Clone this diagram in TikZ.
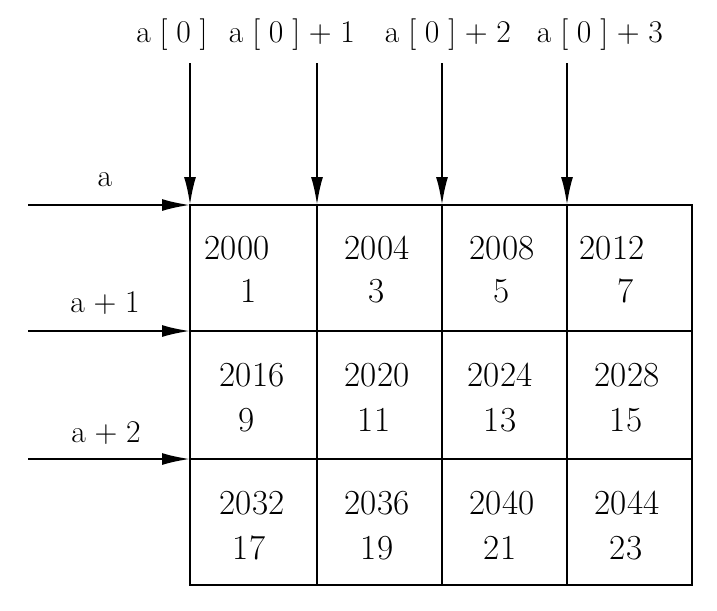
\documentclass[tikz,border=0pt]{standalone}
\usetikzlibrary{arrows.meta}
\tikzstyle{cell} = [inner sep=0pt, font=\fontsize{20}{24}\selectfont]
\tikzstyle{lbl} = [inner sep=0pt, font=\fontsize{18}{22}\selectfont]
\tikzstyle{grid} = [line width=1.2pt]

\begin{document}
\begin{tikzpicture}[x=0.02cm, y=-0.02cm]
    \tikzset{ptr/.style={-{Latex[length=5.6mm,width=2.4mm]}, line width=1.2pt}}
\useasboundingbox (0,0) rectangle (717,610);

% grid corners
\foreach \i/\x in {0/190,1/317,2/442,3/567,4/692}
  \foreach \j/\y in {0/205,1/331,2/459,3/585}
    \coordinate (g\i\j) at (\x,\y);

\draw [grid] (g00) rectangle (g43);
\draw [grid] (g10) -- (g13);
\draw [grid] (g20) -- (g23);
\draw [grid] (g30) -- (g33);
\draw [grid] (g01) -- (g41);
\draw [grid] (g02) -- (g42);

% column pointers
\node (p0) [lbl] at (172,35) {a\;[\;0\;]};
\node (p1) [lbl] at (292,35) {a\;[\;0\;]\;+\;1};
\node (p2) [lbl] at (448,35) {a\;[\;0\;]\;+\;2};
\node (p3) [lbl] at (600,35) {a\;[\;0\;]\;+\;3};
\foreach \i/\x in {0/190,1/317,2/442,3/567}
  \coordinate (t\i) at (\x,63);
\draw [ptr] (t0) -- (g00);
\draw [ptr] (t1) -- (g10);
\draw [ptr] (t2) -- (g20);
\draw [ptr] (t3) -- (g30);

% row pointers
\node (r0) [lbl] at (105,180) {a};
\node (r1) [lbl] at (105,303) {a\;+\;1};
\node (r2) [lbl] at (106,433) {a\;+\;2};
\foreach \j/\y in {0/205,1/331,2/459}
  \coordinate (l\j) at (28,\y);
\draw [ptr] (l0) -- (g00);
\draw [ptr] (l1) -- (g01);
\draw [ptr] (l2) -- (g02);

% addresses and values
\foreach \x/\y/\t in {237/248/2000, 377/248/2004, 502/248/2008, 612/248/2012,
                      252/375/2016, 377/375/2020, 500/375/2024, 627/375/2028,
                      252/503/2032, 377/503/2036, 502/503/2040, 627/503/2044}
  \node (m\t) [cell] at (\x,\y) {\t};
\foreach \x/\y/\t in {249/291/1, 377/291/3, 502/291/5, 626/291/7,
                      247/420/9, 374/420/11, 500/420/13, 626/420/15,
                      249/548/17, 377/548/19, 500/548/21, 626/548/23}
  \node (v\t) [cell] at (\x,\y) {\t};
\end{tikzpicture}
\end{document}
